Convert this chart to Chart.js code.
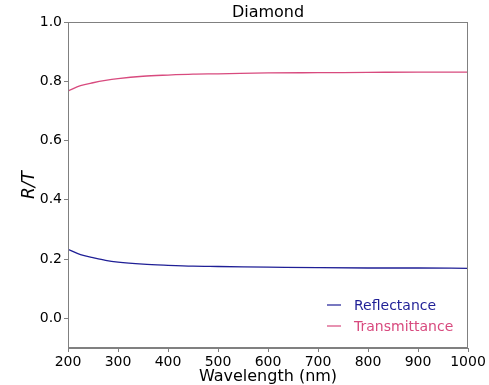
<!DOCTYPE html>
<html>
<head>
<meta charset="utf-8">
<script src="https://cdn.jsdelivr.net/npm/chart.js@4/dist/chart.umd.min.js"></script>
<style>
    html, body { margin: 0; padding: 0; background: #fff; }
</style>
</head>
<body>
<canvas id="chart" width="489" height="385"></canvas>
<script>
const WAVELENGTH = [200, 225, 250, 275, 300, 350, 400, 450, 500, 600, 700, 800, 900, 1000];
const REFLECTANCE = [0.233, 0.215, 0.205, 0.196, 0.190, 0.183, 0.179, 0.176, 0.175, 0.173, 0.171, 0.170, 0.170, 0.169];
const TRANSMITTANCE = [0.767, 0.785, 0.795, 0.803, 0.809, 0.817, 0.821, 0.824, 0.825, 0.828, 0.829, 0.830, 0.831, 0.831];
const X_TICKS = [200, 300, 400, 500, 600, 700, 800, 900, 1000];
const Y_TICKS = [0.0, 0.2, 0.4, 0.6, 0.8, 1.0];

const FONT = 'DejaVu Sans';
const AXIS_GREY = '#808080';

const SERIES = [
    { label: 'Reflectance', data: REFLECTANCE, color: '#1f1f96' },
    { label: 'Transmittance', data: TRANSMITTANCE, color: '#d84a7e' },
];

// title, frame and in-plot legend, matplotlib style
const decorations = {
    id: 'decorations',
    afterDraw(chart) {
        const { ctx, chartArea: a } = chart;
        ctx.save();
        ctx.strokeStyle = AXIS_GREY;
        ctx.lineWidth = 1;
        ctx.strokeRect(a.left + 0.5, a.top + 0.5, a.right - a.left - 1, a.bottom - a.top - 1);

        ctx.fillStyle = '#000';
        ctx.font = `16px "${FONT}"`;
        ctx.textAlign = 'center';
        ctx.textBaseline = 'middle';
        ctx.fillText('Diamond', (a.left + a.right) / 2, 13);

        ctx.font = `14px "${FONT}"`;
        ctx.textAlign = 'left';
        SERIES.forEach((s, i) => {
            const y = 305 + i * 21;
            ctx.strokeStyle = s.color;
            ctx.lineWidth = 1.2;
            ctx.beginPath();
            ctx.moveTo(327, y);
            ctx.lineTo(341, y);
            ctx.stroke();
            ctx.fillStyle = s.color;
            ctx.fillText(s.label, 354, y + 1);
        });
        ctx.restore();
    },
};

new Chart(document.getElementById('chart'), {
    type: 'line',
    data: {
        datasets: SERIES.map((s) => ({
            label: s.label,
            data: WAVELENGTH.map((x, i) => ({ x, y: s.data[i] })),
            borderColor: s.color,
            borderWidth: 1.3,
            pointRadius: 0,
            cubicInterpolationMode: 'monotone',
            fill: false,
        })),
    },
    plugins: [decorations],
    options: {
        responsive: false,
        animation: false,
        layout: { padding: { top: 22, right: 21, bottom: 0, left: 0 } },
        plugins: {
            legend: { display: false },
            tooltip: { enabled: false },
        },
        scales: {
            x: {
                type: 'linear',
                min: 200,
                max: 1000,
                afterBuildTicks: (axis) => { axis.ticks = X_TICKS.map((v) => ({ value: v })); },
                afterFit: (axis) => { axis.height = 37; },
                grid: { drawOnChartArea: false, tickLength: 4, color: AXIS_GREY },
                border: { color: AXIS_GREY },
                ticks: {
                    color: '#000',
                    padding: 2,
                    maxRotation: 0,
                    font: { family: FONT, size: 14 },
                    callback: (v) => String(v),
                },
                title: {
                    display: true,
                    text: 'Wavelength (nm)',
                    color: '#000',
                    padding: { top: 0, bottom: 0 },
                    font: { family: FONT, size: 16, lineHeight: 1 },
                },
            },
            y: {
                min: -0.1,
                max: 1.0,
                afterBuildTicks: (axis) => { axis.ticks = Y_TICKS.map((v) => ({ value: v })); },
                afterFit: (axis) => { axis.width = 68; },
                grid: { drawOnChartArea: false, tickLength: 4, color: AXIS_GREY },
                border: { color: AXIS_GREY },
                ticks: {
                    color: '#000',
                    padding: 2,
                    font: { family: FONT, size: 14 },
                    callback: (v) => v.toFixed(1),
                },
                title: {
                    display: true,
                    text: 'R/T',
                    color: '#000',
                    padding: { top: 21, bottom: 0 },
                    font: { family: FONT, size: 17, style: 'italic', lineHeight: 1 },
                },
            },
        },
    },
});
</script>
</body>
</html>
